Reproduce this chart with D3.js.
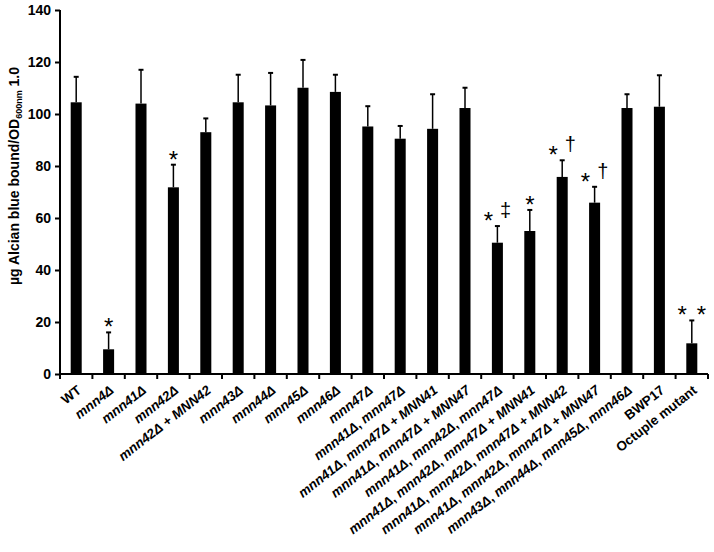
<!DOCTYPE html>
<meta charset="utf-8">
<style>
    body{ margin:0; background:#fff; }
    svg{ font-family: "Liberation Sans", Arial, sans-serif; }
    .axis text{ font-weight:bold; font-size:14px; fill:#000; }
    .xlab{ font-weight:bold; font-size:13.4px; fill:#000; }
    .note{ font-size:18px; fill:#000; }
</style>
<body>
<svg id="chart" width="714" height="552"></svg>
</body>
<script src="https://d3js.org/d3.v7.min.js"></script>
<script>
// strains on the x axis
var strains = ["WT", "mnn4Δ", "mnn41Δ", "mnn42Δ", "mnn42Δ + MNN42", "mnn43Δ", "mnn44Δ",
    "mnn45Δ", "mnn46Δ", "mnn47Δ", "mnn41Δ, mnn47Δ", "mnn41Δ, mnn47Δ + MNN41",
    "mnn41Δ, mnn47Δ + MNN47", "mnn41Δ, mnn42Δ, mnn47Δ", "mnn41Δ, mnn42Δ, mnn47Δ + MNN41",
    "mnn41Δ, mnn42Δ, mnn47Δ + MNN42", "mnn41Δ, mnn42Δ, mnn47Δ + MNN47",
    "mnn43Δ, mnn44Δ, mnn45Δ, mnn46Δ", "BWP17", "Octuple mutant"];
// mean alcian blue bound
var means = [104.5, 9.5, 104, 71.8, 93, 104.5, 103.3, 110.1, 108.5, 95.2, 90.5, 94.3,
    102.3, 50.5, 55, 75.8, 65.9, 102.3, 102.8, 11.8];
// upper error (SD)
var errs = [9.8, 6.5, 13, 8.7, 5.3, 10.6, 12.5, 10.7, 6.6, 7.8, 4.9, 13.3,
    7.8, 6.4, 8.1, 6.4, 6.1, 5.3, 12.1, 8.8];
// significance marks
var marks = ["", "*", "", "*", "", "", "", "", "", "", "", "", "", "* ‡", "*", "* †", "* †",
    "", "", "*  *"];
var yTicks = [0, 20, 40, 60, 80, 100, 120, 140];

var svg = d3.select("#chart");
var pLeft = 60, pRight = 708, pTop = 10, pBottom = 374;

var x = d3.scaleBand().domain(strains).range([pLeft, pRight])
    .paddingInner(0.66).paddingOuter(0.33);
var y = d3.scaleLinear().domain([0, 140]).range([pBottom, pTop]);

var data = strains.map(function(s, i){
    return {name:s, v:means[i], e:errs[i], m:marks[i]};
});

// bars
svg.selectAll("rect.bar")
    .data(data)
    .enter().append("rect")
        .attr("class", "bar")
        .attr("x", function(d){ return x(d.name); })
        .attr("width", x.bandwidth())
        .attr("y", function(d){ return y(d.v); })
        .attr("height", function(d){ return y(0) - y(d.v); })
        .attr("fill", "#000");

// error bars (upper only)
var eb = svg.selectAll("g.err").data(data).enter().append("g").attr("class", "err")
    .attr("stroke", "#000").attr("stroke-width", 1.5);
eb.append("line")
    .attr("x1", function(d){ return x(d.name) + x.bandwidth()/2; })
    .attr("x2", function(d){ return x(d.name) + x.bandwidth()/2; })
    .attr("y1", function(d){ return y(d.v); })
    .attr("y2", function(d){ return y(d.v + d.e); });
eb.append("line")
    .attr("x1", function(d){ return x(d.name) + x.bandwidth()/2 - 2.5; })
    .attr("x2", function(d){ return x(d.name) + x.bandwidth()/2 + 2.5; })
    .attr("y1", function(d){ return y(d.v + d.e); })
    .attr("y2", function(d){ return y(d.v + d.e); })
    .attr("stroke-width", 2);

// significance marks: big asterisks, daggers sitting a bit higher
var notes = svg.selectAll("text.note")
    .data(data.filter(function(d){ return d.m; }))
    .enter().append("text")
        .attr("class", "note")
        .attr("text-anchor", "middle")
        .attr("x", function(d){ return x(d.name) + x.bandwidth()/2; })
        .attr("y", function(d){ return y(d.v + d.e); });
notes.each(function(d){
    var t = d3.select(this), cur = 0;
    d.m.split("").forEach(function(c){
        var off = c == "*" ? 3 : (c == " " ? cur : -9);
        var ts = t.append("tspan").attr("dy", off - cur)
            .text(c == " " ? "\u00a0" : c);
        if(c == "*") ts.attr("font-size", "24px");
        else if(c != " ") ts.attr("font-size", "20px").attr("dx", 2).attr("fill", "#000");
        cur = off;
    });
});

// y axis
var yAxis = svg.append("g").attr("class", "axis")
    .attr("transform", "translate(" + pLeft + ",0)")
    .call(d3.axisLeft(y).tickValues(yTicks).tickSize(5).tickPadding(4));
yAxis.select(".domain").attr("stroke-width", 2).attr("d", "M0," + pTop + "V" + pBottom);
yAxis.selectAll(".tick line").attr("stroke-width", 2);

// x axis line and ticks between bars
svg.append("line").attr("x1", pLeft - 1).attr("x2", pRight)
    .attr("y1", pBottom).attr("y2", pBottom)
    .attr("stroke", "#000").attr("stroke-width", 2);
svg.selectAll("line.xt")
    .data(d3.range(strains.length + 1))
    .enter().append("line")
        .attr("class", "xt")
        .attr("x1", function(i){ return pLeft + i * x.step(); })
        .attr("x2", function(i){ return pLeft + i * x.step(); })
        .attr("y1", pBottom).attr("y2", pBottom + 5)
        .attr("stroke", "#000").attr("stroke-width", 2);

// x labels, gene names in italics
var lab = svg.selectAll("text.xlab")
    .data(strains)
    .enter().append("text")
        .attr("class", "xlab")
        .attr("text-anchor", "end")
        .attr("transform", function(d){
            return "translate(" + (x(d) + x.bandwidth()/2 + 6) + "," + (pBottom + 18) + ") rotate(-38)";
        });
lab.each(function(d){
    var t = d3.select(this);
    d.split(/(mnn\d+Δ|MNN\d+)/).forEach(function(part){
        if(!part) return;
        t.append("tspan")
            .attr("font-style", /^(mnn|MNN)/.test(part) ? "italic" : "normal")
            .text(part);
    });
});

// y title
var yt = svg.append("text")
    .attr("transform", "translate(19,176) rotate(-90)")
    .attr("text-anchor", "middle")
    .attr("font-weight", "bold")
    .attr("font-size", "14px");
yt.append("tspan").text("µg Alcian blue bound/OD");
yt.append("tspan").attr("font-size", "9px").attr("dy", 3).text("600nm");
yt.append("tspan").attr("dy", -3).text(" 1.0");
</script>
